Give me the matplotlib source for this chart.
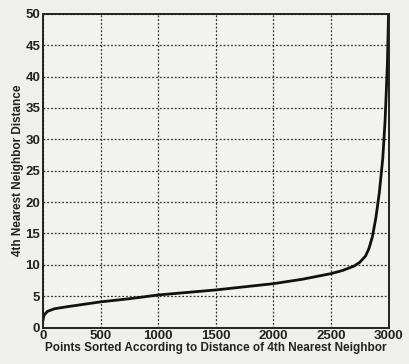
import matplotlib.pyplot as plt

# values (point rank -> 4th nearest neighbor distance)
rank = [0, 10, 40, 100, 200, 350, 500, 750, 1000, 1250, 1500, 1750, 2000,
        2250, 2500, 2600, 2700, 2750, 2800, 2830, 2860, 2890, 2920, 2950,
        2970, 2990, 3000]
dist = [1.2, 2.0, 2.6, 3.0, 3.3, 3.7, 4.1, 4.6, 5.2, 5.6, 6.0, 6.5, 7.0,
        7.7, 8.6, 9.1, 9.8, 10.4, 11.4, 12.6, 14.5, 17.5, 21.5, 27.0,
        33.0, 42.0, 50.0]

xticks = [0, 500, 1000, 1500, 2000, 2500, 3000]
yticks = [0, 5, 10, 15, 20, 25, 30, 35, 40, 45, 50]

plt.rcParams['font.family'] = ['Liberation Sans', 'DejaVu Sans']
fig = plt.figure(figsize=(4.09, 3.64), dpi=100)
fig.patch.set_facecolor('#efefed')
ax = fig.add_axes([0.105, 0.10, 0.845, 0.862])
ax.set_facecolor('#f2f2f0')
ax.plot(rank, dist, color='#111111', lw=2.0)
ax.set_xlim(0, 3000)
ax.set_ylim(0, 50)
ax.set_xticks(xticks)
ax.set_yticks(yticks)
ax.grid(True, color='#333333', linestyle=(0, (1.5, 1.5)), lw=0.9)
ax.tick_params(length=0, labelsize=9.5, pad=2, colors='#222222')
for lbl in ax.get_xticklabels() + ax.get_yticklabels():
    lbl.set_fontweight('bold')
for s in ax.spines.values():
    s.set_linewidth(1.4)
    s.set_color('#222222')
ax.set_xlabel("Points Sorted According to Distance of 4th Nearest Neighbor",
              fontsize=8.5, fontweight='bold', labelpad=0, color='#222222')
ax.set_ylabel("4th Nearest Neighbor Distance", fontsize=8.5,
              fontweight='bold', labelpad=1, color='#222222')
fig.savefig('out.png', dpi=100)
